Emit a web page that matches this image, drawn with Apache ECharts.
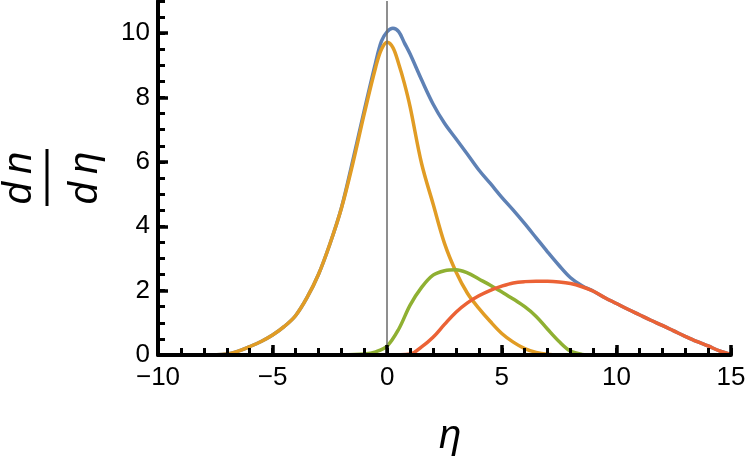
<!DOCTYPE html>
<html>
<head>
<meta charset="utf-8">
<script src="https://cdn.jsdelivr.net/npm/echarts@6/dist/echarts.min.js"></script>
<style>
  html, body { margin: 0; padding: 0; background: #fff; }
  #chart { width: 750px; height: 459px; }
</style>
</head>
<body>
<div id="chart"></div>
<script>
// total (blue)
var totalX = [-10, -8, -7, -6.5, -6, -5.5, -5, -4.5, -4, -3.5, -3, -2.5, -2, -1.5, -1, -0.5, -0.25, 0, 0.25, 0.5, 0.75, 1, 1.5, 2, 2.5, 3, 3.5, 4, 4.5, 5, 5.5, 6, 6.5, 7, 7.5, 8, 8.5, 9, 9.5, 10, 10.5, 11, 11.5, 12, 12.5, 13, 13.5, 14, 14.5, 15];
var totalY = [0, 0, 0.03, 0.12, 0.26, 0.42, 0.62, 0.88, 1.22, 1.78, 2.5, 3.45, 4.57, 6.05, 7.6, 9.1, 9.75, 10.05, 10.15, 10.05, 9.7, 9.35, 8.55, 7.8, 7.2, 6.72, 6.24, 5.75, 5.33, 4.9, 4.5, 4.08, 3.64, 3.2, 2.78, 2.4, 2.15, 1.98, 1.78, 1.6, 1.42, 1.25, 1.08, 0.92, 0.75, 0.58, 0.42, 0.28, 0.13, 0.02];

// orange
var orangeX = [-10, -8, -7, -6.5, -6, -5.5, -5, -4.5, -4, -3.5, -3, -2.5, -2, -1.5, -1, -0.5, -0.25, 0, 0.25, 0.5, 0.75, 1, 1.5, 2, 2.5, 3, 3.5, 4, 4.5, 5, 5.5, 6, 6.5, 7, 7.5];
var orangeY = [0, 0, 0.03, 0.12, 0.26, 0.42, 0.62, 0.88, 1.22, 1.78, 2.5, 3.45, 4.55, 5.95, 7.5, 8.95, 9.5, 9.72, 9.55, 9.05, 8.44, 7.71, 5.95, 4.7, 3.47, 2.59, 1.92, 1.45, 1.04, 0.67, 0.4, 0.2, 0.08, 0.02, 0];

// green
var greenX = [-2, -1, -0.5, 0, 0.5, 1, 1.5, 2, 2.5, 3, 3.5, 4, 4.5, 5, 5.5, 6, 6.5, 7, 7.5, 8, 8.5, 9];
var greenY = [0, 0.03, 0.1, 0.28, 0.8, 1.55, 2.1, 2.48, 2.62, 2.65, 2.55, 2.36, 2.17, 1.96, 1.74, 1.5, 1.2, 0.8, 0.42, 0.12, 0.02, 0];

// red
var redX = [0, 1, 1.5, 2, 2.5, 3, 3.5, 4, 4.5, 5, 5.5, 6, 6.5, 7, 7.5, 8, 8.5, 9, 9.5, 10, 10.5, 11, 11.5, 12, 12.5, 13, 13.5, 14, 14.5, 15];
var redY = [0, 0.03, 0.25, 0.55, 0.95, 1.33, 1.62, 1.84, 2.01, 2.14, 2.24, 2.28, 2.29, 2.29, 2.27, 2.22, 2.12, 1.98, 1.78, 1.6, 1.42, 1.25, 1.08, 0.92, 0.75, 0.58, 0.42, 0.28, 0.13, 0.02];

var yMajorTicks = [0, 2, 4, 6, 8, 10];
var refLineX = [0];

var FONT = '"Liberation Sans", Arial, sans-serif';

function pairs(xs, ys) {
  return xs.map(function (x, i) { return [x, ys[i]]; });
}

function curve(name, color, xs, ys) {
  return {
    name: name,
    type: 'line',
    xAxisIndex: 0,
    yAxisIndex: 0,
    smooth: 0.35,
    showSymbol: false,
    symbol: 'none',
    lineStyle: { color: color, width: 3.5 },
    data: pairs(xs, ys)
  };
}

var chart = echarts.init(document.getElementById('chart'));

var series = [
  curve('total', '#5e81b5', totalX, totalY),
  curve('orange', '#e19c24', orangeX, orangeY),
  curve('green', '#8fb032', greenX, greenY),
  curve('red', '#eb6235', redX, redY)
];
// thin grey rule at eta = 0
series[3].markLine = {
  silent: true,
  symbol: ['none', 'none'],
  label: { show: false },
  lineStyle: { color: '#6a6a6a', width: 1.5, type: 'solid' },
  data: refLineX.map(function (v) { return { xAxis: v }; })
};

chart.setOption({
  animation: false,
  backgroundColor: '#fff',
  grid: { left: 158, right: 19, top: 1, bottom: 104 },
  xAxis: [
    {
      type: 'value', min: -10, max: 15, interval: 5, position: 'bottom', z: 10,
      axisLine: { show: true, onZero: false, lineStyle: { color: '#000', width: 4 } },
      axisTick: { show: true, inside: true, length: 10, lineStyle: { color: '#000', width: 3.5 } },
      axisLabel: {
        margin: 10, fontSize: 26, color: '#000', fontFamily: FONT,
        formatter: function (v) { return String(v).replace('-', '\u2212'); }
      },
      splitLine: { show: false }
    },
    {
      type: 'value', min: -10, max: 15, interval: 1, position: 'bottom', z: 10,
      axisLine: { show: false, onZero: false },
      axisTick: { show: true, inside: true, length: 7, lineStyle: { color: '#000', width: 3 } },
      axisLabel: { show: false },
      splitLine: { show: false }
    }
  ],
  yAxis: [
    {
      type: 'value', min: 0, max: 11, interval: 2, position: 'left', z: 10,
      axisLine: { show: true, onZero: false, lineStyle: { color: '#000', width: 4 } },
      axisTick: { show: true, inside: true, length: 10, customValues: yMajorTicks, lineStyle: { color: '#000', width: 3.5 } },
      axisLabel: { margin: 8, fontSize: 26, color: '#000', fontFamily: FONT, customValues: yMajorTicks },
      splitLine: { show: false }
    },
    {
      type: 'value', min: 0, max: 11, interval: 0.5, position: 'left', z: 10,
      axisLine: { show: false, onZero: false },
      axisTick: { show: true, inside: true, length: 7, lineStyle: { color: '#000', width: 3 } },
      axisLabel: { show: false },
      splitLine: { show: false }
    }
  ],
  graphic: [
    {
      type: 'text', x: 20, y: 178, rotation: Math.PI / 2,
      style: { text: 'd\u2009n', font: 'italic 40px ' + FONT, fill: '#000',
        align: 'center', verticalAlign: 'middle', textAlign: 'center', textVerticalAlign: 'middle' }
    },
    {
      type: 'rect', shape: { x: 45.5, y: 149, width: 3, height: 57 },
      style: { fill: '#000' }
    },
    {
      type: 'text', x: 86, y: 178, rotation: Math.PI / 2,
      style: { text: 'd\u2009\u03b7', font: 'italic 40px ' + FONT, fill: '#000',
        align: 'center', verticalAlign: 'middle', textAlign: 'center', textVerticalAlign: 'middle' }
    },
    {
      type: 'text', x: 450, y: 437,
      style: { text: '\u03b7', font: 'italic 40px ' + FONT, fill: '#000',
        align: 'center', verticalAlign: 'middle', textAlign: 'center', textVerticalAlign: 'middle' }
    }
  ],
  series: series
});
</script>
</body>
</html>
